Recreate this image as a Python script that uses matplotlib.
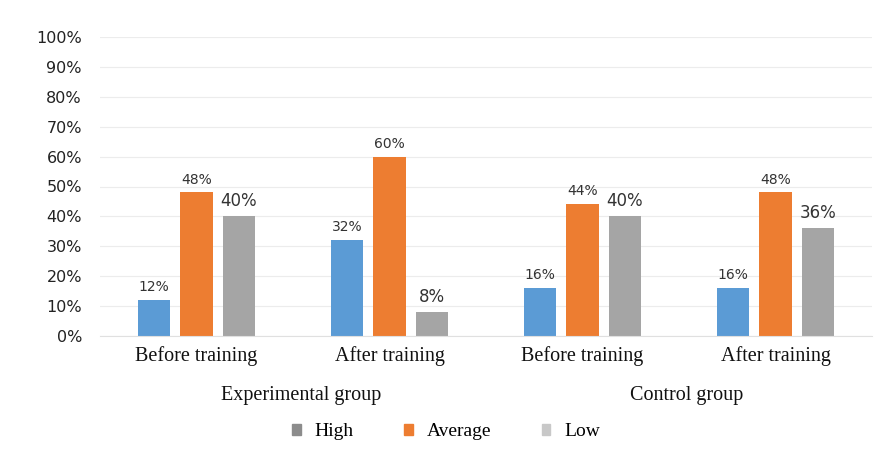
import matplotlib
matplotlib.use("Agg")
import matplotlib.pyplot as plt
import numpy as np
from matplotlib.patches import Patch

# data
stages = ["Before training", "After training", "Before training", "After training"]
groups = ["Experimental group", "Control group"]
high = [12, 32, 16, 16]
average = [48, 60, 44, 48]
low = [40, 8, 40, 36]
yticks = [0, 10, 20, 30, 40, 50, 60, 70, 80, 90, 100]

c_blue = "#5B9BD5"
c_orange = "#ED7D31"
c_gray = "#A5A5A5"

fig = plt.figure(figsize=(8.84, 4.54), dpi=100)
ax = fig.add_axes([100 / 884, 1 - 336 / 454, 772 / 884, 299 / 454])

x = np.arange(len(stages))
w = 0.17
off = 0.22
series = [(high, c_blue, 10), (average, c_orange, 10), (low, c_gray, 12)]
for k, (vals, col, fs) in enumerate(series):
    pos = x + (k - 1) * off
    bars = ax.bar(pos, vals, width=w, color=col)
    for b, v in zip(bars, vals):
        ax.text(b.get_x() + b.get_width() / 2, v + 2, f"{v}%", ha="center", va="bottom",
                fontsize=fs, color="#333333", family="DejaVu Sans")

ax.set_xlim(-0.5, len(stages) - 0.5)
ax.set_ylim(0, 100)
ax.set_yticks(yticks)
ax.set_yticklabels([f"{t}%" for t in yticks], fontsize=11.5, color="#222222")
ax.set_xticks(x)
ax.set_xticklabels(stages, family="Liberation Serif", fontsize=14.5, color="#111111")
ax.tick_params(axis="both", length=0)
ax.tick_params(axis="y", pad=13)
ax.tick_params(axis="x", pad=7)
ax.yaxis.grid(True, color="#ececec", linewidth=0.8)
ax.set_axisbelow(True)
for s in ["top", "right", "left"]:
    ax.spines[s].set_visible(False)
ax.spines["bottom"].set_color("#e0e0e0")

# group labels
for gi, g in enumerate(groups):
    gx = (x[2 * gi] + x[2 * gi + 1]) / 2 + 0.04
    ax.text(gx, -20, g, transform=ax.transData, ha="center", va="center",
            family="Liberation Serif", fontsize=14.5, color="#111111", clip_on=False)

# legend
handles = [Patch(color="#8c8c8c", label="High"),
           Patch(color=c_orange, label="Average"),
           Patch(color="#c8c8c8", label="Low")]
fig.legend(handles=handles, loc="center", bbox_to_anchor=(446 / 884, 1 - 432 / 454), ncol=3,
           frameon=False, prop={"family": "Liberation Serif", "size": 14},
           handlelength=0.45, handleheight=0.45, columnspacing=2.6, handletextpad=0.7)

fig.savefig("out.png", dpi=100, facecolor="white")
